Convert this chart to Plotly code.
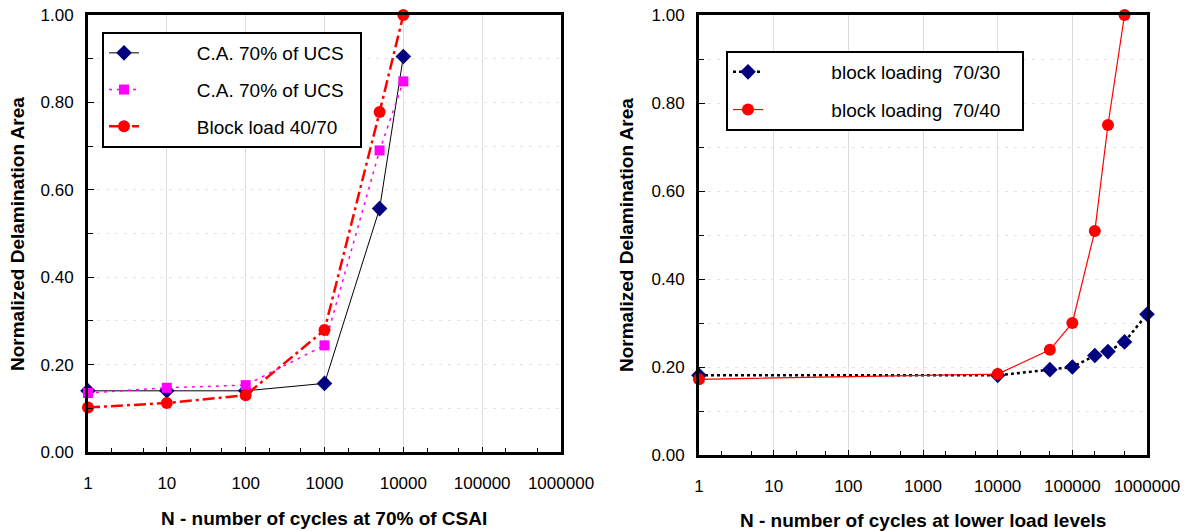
import plotly.graph_objects as go

W, H = 1191, 531

# ---------------- data ----------------
x_left = [1, 10, 100, 1000, 5000, 10000]
ca70_a = [0.14, 0.14, 0.14, 0.157, 0.557, 0.905]
ca70_b = [0.135, 0.147, 0.153, 0.244, 0.69, 0.848]
block_40_70 = [0.102, 0.112, 0.13, 0.279, 0.778, 1.0]

x_70_30 = [1, 10000, 50000, 100000, 200000, 300000, 500000, 1000000]
y_70_30 = [0.181, 0.181, 0.194, 0.20, 0.226, 0.235, 0.257, 0.32]
x_70_40 = [1, 10000, 50000, 100000, 200000, 300000, 500000]
y_70_40 = [0.172, 0.184, 0.239, 0.30, 0.509, 0.75, 1.0]

x_tick_vals = [1, 10, 100, 1000, 10000, 100000, 1000000]
x_tick_text = ["1", "10", "100", "1000", "10000", "100000", "1000000"]
y_tick_vals = [0.0, 0.2, 0.4, 0.6, 0.8, 1.0]
y_tick_text = ["0.00", "0.20", "0.40", "0.60", "0.80", "1.00"]

FONT = "Liberation Sans, Arial, sans-serif"
NB = "\u00a0"

fig = go.Figure()

# left panel
fig.add_trace(go.Scatter(
    x=x_left, y=ca70_a, name=NB * 10 + "C.A. 70% of UCS" + NB * 2, mode="lines+markers",
    line=dict(color="black", width=1),
    marker=dict(symbol="diamond", size=12, color="#000080"),
    xaxis="x", yaxis="y", legend="legend", legendgroup="a", cliponaxis=False))
fig.add_trace(go.Scatter(
    x=x_left, y=ca70_b, name=NB * 10 + "C.A. 70% of UCS" + NB * 2, mode="lines+markers",
    line=dict(color="#FF00FF", width=1.5, dash="3px,5px"),
    marker=dict(symbol="square", size=10, color="#FF00FF"),
    xaxis="x", yaxis="y", legend="legend", legendgroup="b", cliponaxis=False))
fig.add_trace(go.Scatter(
    x=x_left, y=block_40_70, name=NB * 10 + "Block load 40/70", mode="lines+markers",
    line=dict(color="#FF0000", width=2.5, dash="12px,4px,3px,4px"),
    marker=dict(symbol="circle", size=12, color="#FF0000"),
    xaxis="x", yaxis="y", legend="legend", legendgroup="c", cliponaxis=False))

# right panel
fig.add_trace(go.Scatter(
    x=x_70_30, y=y_70_30, name=NB * 12 + "block loading  70/30" + NB * 3, mode="lines+markers",
    line=dict(color="black", width=2.5, dash="dot"),
    marker=dict(symbol="diamond", size=12, color="#000080"),
    xaxis="x2", yaxis="y2", legend="legend2", legendgroup="d", cliponaxis=False))
fig.add_trace(go.Scatter(
    x=x_70_40, y=y_70_40, name=NB * 12 + "block loading  70/40" + NB * 3, mode="lines+markers",
    line=dict(color="#FF0000", width=1.2),
    marker=dict(symbol="circle", size=12, color="#FF0000"),
    xaxis="x2", yaxis="y2", legend="legend2", legendgroup="e", cliponaxis=False))

def xaxis_cfg(dom):
    return dict(
        type="log", domain=dom, range=[0, 6], automargin=False,
        tickvals=x_tick_vals, ticktext=x_tick_text,
        ticks="inside", ticklen=5, tickcolor="black", tickwidth=1,
        ticklabelstandoff=14,
        showline=True, linecolor="black", linewidth=3, mirror=True,
        showgrid=True, gridcolor="#dcdcdc", gridwidth=1,
        minor=dict(ticks="inside", ticklen=4, tickcolor="black", showgrid=False),
        tickfont=dict(family=FONT, size=17, color="black"),
        zeroline=False,
    )

def yaxis_cfg(dom, anchor):
    return dict(
        domain=dom, range=[0, 1], anchor=anchor, automargin=False,
        tickvals=y_tick_vals, ticktext=y_tick_text,
        ticks="inside", ticklen=6, tickcolor="black", tickwidth=1,
        ticklabelstandoff=8,
        showline=True, linecolor="black", linewidth=3, mirror=True,
        showgrid=True, gridcolor="#e4e4e4", griddash="3px,6px",
        minor=dict(dtick=0.1, ticks="inside", ticklen=5, tickcolor="black",
                   showgrid=True, gridcolor="#e4e4e4", griddash="3px,6px"),
        tickfont=dict(family=FONT, size=17, color="black"),
        zeroline=False,
    )

L0, L1 = 88 / W, 561 / W
R0, R1 = 699 / W, 1147 / W
yl = [(H - 452) / H, (H - 15) / H]
yr = [(H - 455) / H, (H - 15) / H]

title_font = dict(family=FONT, size=19, color="black")

fig.update_layout(
    width=W, height=H,
    margin=dict(l=0, r=0, t=0, b=0, autoexpand=False),
    paper_bgcolor="white", plot_bgcolor="white",
    font=dict(family=FONT, color="black"),
    showlegend=True,
    xaxis=dict(**xaxis_cfg([L0, L1]), anchor="y"),
    yaxis=yaxis_cfg(yl, "x"),
    xaxis2=dict(**xaxis_cfg([R0, R1]), anchor="y2"),
    yaxis2=yaxis_cfg(yr, "x2"),
    legend=dict(
        x=102 / W, y=1 - 32 / H, xanchor="left", yanchor="top",
        bgcolor="white", bordercolor="black", borderwidth=2,
        font=dict(family=FONT, size=19, color="black"),
        tracegroupgap=9, itemclick=False, itemdoubleclick=False,
    ),
    legend2=dict(
        x=726 / W, y=1 - 51 / H, xanchor="left", yanchor="top",
        bgcolor="white", bordercolor="black", borderwidth=2,
        font=dict(family=FONT, size=19, color="black"),
        tracegroupgap=10, itemclick=False, itemdoubleclick=False,
    ),
    annotations=[
        dict(text="<b>Normalized Delamination Area</b>", xref="paper", yref="paper",
             x=18 / W, y=1 - 234 / H, textangle=-90, showarrow=False,
             xanchor="center", yanchor="middle", font=title_font),
        dict(text="<b>Normalized Delamination Area</b>", xref="paper", yref="paper",
             x=627 / W, y=1 - 235 / H, textangle=-90, showarrow=False,
             xanchor="center", yanchor="middle", font=title_font),
        dict(text="<b>N - number of cycles at 70% of CSAI</b>", xref="paper", yref="paper",
             x=324 / W, y=1 - 518 / H, showarrow=False,
             xanchor="center", yanchor="middle", font=title_font),
        dict(text="<b>N - number of cycles at lower load levels</b>", xref="paper", yref="paper",
             x=923 / W, y=1 - 520 / H, showarrow=False,
             xanchor="center", yanchor="middle", font=title_font),
    ],
)

fig.write_html("out.html")
